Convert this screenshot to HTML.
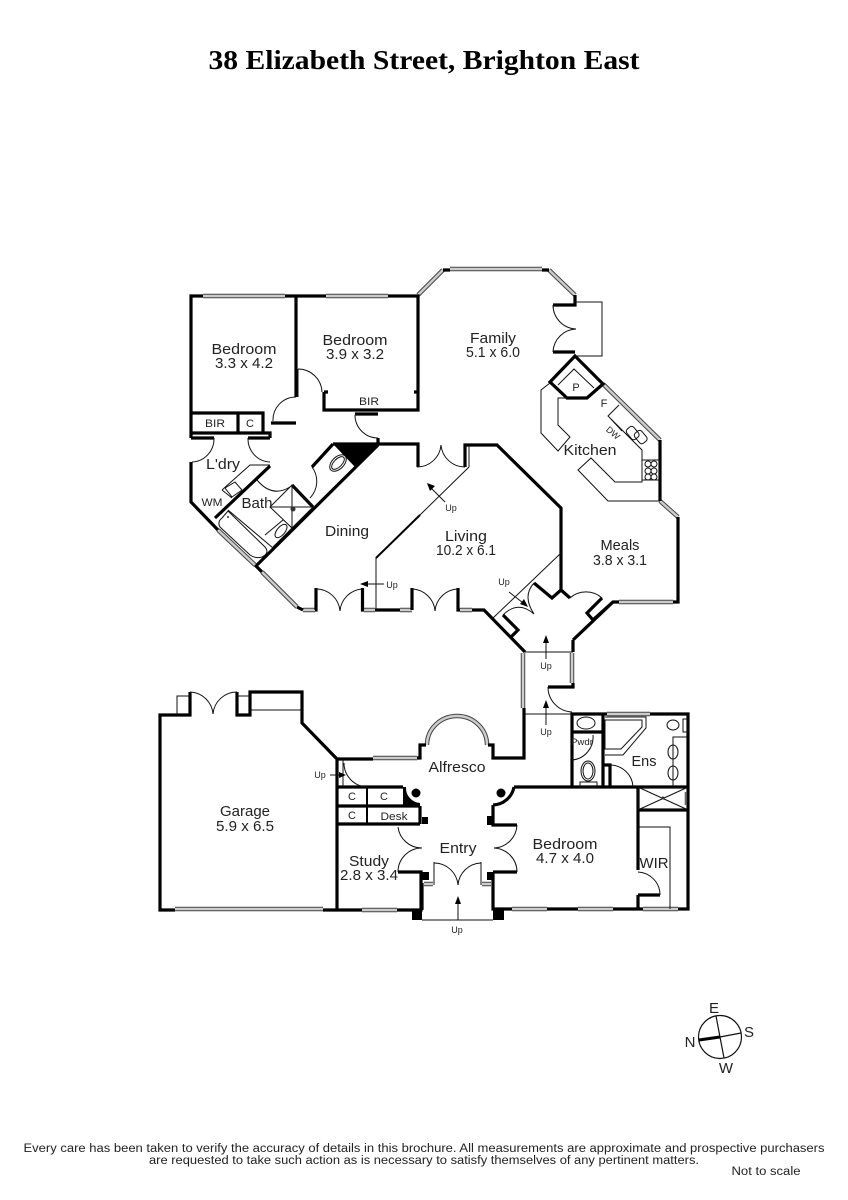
<!DOCTYPE html>
<html><head><meta charset="utf-8"><style>
html,body{margin:0;padding:0;background:#fff;width:848px;height:1200px;overflow:hidden}
svg{display:block}
text{font-family:"Liberation Sans",sans-serif;fill:#222;text-anchor:middle}
.r{font-size:15px}.s{font-size:9px}.b{font-size:11px}
.t{fill:none;stroke:#000;stroke-width:3.2;stroke-linejoin:miter}
.m{fill:none;stroke:#000;stroke-width:2}
.n{fill:none;stroke:#111;stroke-width:1}
.a{fill:none;stroke:#111;stroke-width:1}
.w1{fill:none;stroke:#444;stroke-width:4.5}
.w2{fill:none;stroke:#ccc;stroke-width:2.5}
</style></head><body>
<svg width="848" height="1200" viewBox="0 0 848 1200" xmlns="http://www.w3.org/2000/svg">
<defs>
<path id="win" d="M203 296H285M326 296H388M418 295L443 270M450 269H542M549 270L575 295M603 384L660 440M660 501L678 517M619 602H673M218 530L255 565M262 572L297 607M303 610H315M364 610H375M400 610H412M460 610H472M523 653V708M572 653V683M373 758H417M175 909H323M362 910H397M607 714H650M687 792V805M512 909H547M578 909H613M643 909H678M424 884H433M482 884H491M427 745A30 29 0 0 1 487 745"/>
</defs>
<text x="424" y="69" textLength="431" lengthAdjust="spacingAndGlyphs" style="font-family:'Liberation Serif',serif;font-weight:bold;font-size:27px;fill:#000">38 Elizabeth Street, Brighton East</text>

<use href="#win" class="w1"/><use href="#win" class="w2"/>

<!-- thick walls upper -->
<path class="t" d="M203 296H191V438M285 296H326M388 296H418V410H324V392M324 392H328M414 392H418M296 296V397M191 413H263V433M191 433H270V438M238 413V433M191 438H214M248 438H270M191 462V502L218 530M255 565L262 572M297 607L303 610M315 610H316V588M362.500 588V610H364M375 610H400M412 610V588M270 466L215 518M378 445L257 565M333 444H418V467M333 444L312 467M292 485L313 507M271 423H296M355 414H378M378 438V445"/>
<path d="M333 444H378L355 467Z" fill="#000"/>
<path class="t" d="M443 270H450M542 270H549M575 295V305H553M553 352H575M575 356L550 382L567 398H587L603 384Z M660 440V501M678 517V602H673M619 602H613L573 640M465 467V445H497L561 508V590L552 598L534 583M561 590L570 598M602 598L587 613L593 620L613 602M458 588V610H460M472 610H484L525 652M503 615L518 630L510 638M573 640V652"/>
<path class="t" d="M524 708V758H493V745H488M426 745H420V758H417M373 759H337L302 723V692H250V715H237V692M190 692V715H160V910H175M323 910H362M397 910H421V872H398M337 758V910M420 806H337M337 787H403M420 824H337M420 806V824M493 805V825H517M493 872H517M493 872V909H512M547 909H578M613 909H643M678 909H688V714H650M607 714H572V787M603 714V787M572 732H602M514 787H633M610 787V765H603M633 787H688M638 787V870M638 895V909M638 895H660M638 810H688M548 687H573V683M422 883V910"/>
<path class="m" d="M367 787V824"/>
<!-- black blocks -->
<path fill="#000" d="M412 909H422V920H412ZM493 909H504V920H493ZM422 817H428V824H422ZM487 816H493V825H487ZM422 872H429V880H422ZM487 872H493V880H487ZM403 787H406A15 15 0 0 0 420 803V806H403Z"/>
<circle cx="416" cy="793" r="4.500" fill="#000"/><circle cx="501" cy="793" r="4.500" fill="#000"/>
<path class="t" d="M493 805A22 22 0 0 0 514 787"/>

<!-- thin lines -->
<path class="n" d="M576 302H602V356H575M422 920H493M525 652H573M525 714H572M177 715V696H190M237 696H250M250 710H302M343 760V787M638 827H670V909M673 787V737H687M376 610V558L469 467M469 445V467M493 618L561 553M298 369V397"/>
<path class="m" d="M376 558L420 515"/>
<!-- door arcs -->
<path class="a" d="M214 438A23 23 0 0 1 192 462M248 438A23 23 0 0 0 270 462M312 467A24 24 0 0 1 310 498M257 480Q272 498 290 487M296 397A23 23 0 0 0 273 421M298 369A24 24 0 0 1 322 392M355 415A23 23 0 0 0 378 438M417 467A24 24 0 0 0 441 445M465 467A24 24 0 0 1 441 445M316 589A24 24 0 0 1 340 611A24 24 0 0 1 362 589M412 589A24 24 0 0 1 435 611A24 24 0 0 1 458 589M553 305A24 24 0 0 0 576 329A24 24 0 0 0 553 352M534 583Q522 596 534 614M503 615Q518 600 534 614M570 598A24 24 0 0 1 602 598M548 687A25 25 0 0 0 572 712M190 692A24 24 0 0 1 213 714A24 24 0 0 1 237 692M344 763A24 24 0 0 0 368 787M398 827A24 24 0 0 0 422 848A24 24 0 0 0 398 872M517 825A24 24 0 0 1 494 848A24 24 0 0 1 517 872M434 863A24 24 0 0 1 458 885A24 24 0 0 1 481 863M593 735A23 23 0 0 1 572 760M610 765A23 23 0 0 1 633 787M638 872A23 23 0 0 1 660 895"/>
<path class="a" d="M434 862V885M481 862V885"/>

<!-- kitchen -->
<path class="n" d="M550 383L541 390V433L558 451L570 437L558 425V398H567M558 385L574 369L594 388M619 405L608 416L642 450V482H615L591 458L578 470L608 501H660M642 460H659V480H642Z"/>
<circle cx="648" cy="464" r="3" class="n"/><circle cx="654" cy="464" r="3" class="n"/><circle cx="648" cy="471" r="3" class="n"/><circle cx="654" cy="471" r="3" class="n"/><circle cx="648" cy="477" r="3" class="n"/><circle cx="654" cy="477" r="3" class="n"/>
<rect x="628" y="427" width="9" height="13" rx="3" transform="rotate(-40 632 433)" class="n"/>
<rect x="636" y="431" width="9" height="13" rx="3" transform="rotate(-40 640 437)" class="n"/>
<path class="n" d="M611 419L622 431"/>

<!-- bath / laundry fixtures -->
<path class="n" d="M222 490L250 465H270M222 490L232 498M225 488L235 482L242 490L232 497ZM220 527Q217 522 222 518L228 511L265 547Q270 553 262 557Q256 559 250 555ZM228 510L273 548M292 485L313 507L292 528L270 507ZM292 485V528M270 507H313M265 535L283 520M273 547L292 528"/>
<circle cx="293" cy="509" r="2.500" fill="#333"/>
<ellipse cx="281" cy="531" rx="4" ry="8" transform="rotate(40 281 531)" class="n"/>
<circle cx="228" cy="517" r="1" fill="#333"/>
<ellipse cx="338" cy="463" rx="4" ry="8" transform="rotate(45 338 463)" class="n"/>
<ellipse cx="338" cy="463" rx="6" ry="10" transform="rotate(45 338 463)" class="n"/>
<!-- ensuite -->
<ellipse cx="586" cy="723" rx="9" ry="6" class="n"/>
<ellipse cx="588" cy="771" rx="7" ry="10" class="n"/><ellipse cx="588" cy="771" rx="5" ry="8" class="n"/>
<rect x="580" y="782" width="17" height="5" class="n"/>
<path class="n" d="M605 717H646V728L623 755H605M605 720H642V727L621 749H605Z"/>
<path class="n" d="M640 788L686 809M640 809L686 788"/>
<rect x="638" y="788" width="49" height="21" class="n"/>
<ellipse cx="673" cy="725" rx="6" ry="5" class="n"/>
<path class="n" d="M683 719H688V732H683Z"/>
<ellipse cx="673" cy="752" rx="5" ry="7" class="n"/><ellipse cx="673" cy="773" rx="5" ry="7" class="n"/>
<circle cx="663" cy="798" r="1.500" fill="#333"/>

<!-- arrows -->
<path class="n" d="M458 900V920M546 638V659M546 703V725M509 592L527 606M445 502L428 485M330 775H342M361 584H384"/>
<path fill="#000" d="M458 896L455 904H461ZM546 635L543 643H549ZM546 700L543 708H549ZM360 584L368 581V587ZM427 483L435 486L430 491ZM528 607L520 604L524 599ZM346 775L339 772V778Z"/>
<text class="s" x="392" y="588">Up</text>
<text class="s" x="451" y="511">Up</text>
<text class="s" x="504" y="585">Up</text>
<text class="s" x="546" y="669">Up</text>
<text class="s" x="546" y="735">Up</text>
<text class="s" x="320" y="778">Up</text>
<text class="s" x="457" y="933">Up</text>

<!-- labels -->
<text class="r" x="244" y="354" textLength="65" lengthAdjust="spacingAndGlyphs">Bedroom</text><text class="r" x="244" y="368" textLength="58" lengthAdjust="spacingAndGlyphs">3.3 x 4.2</text>
<text class="r" x="355" y="345" textLength="65" lengthAdjust="spacingAndGlyphs">Bedroom</text><text class="r" x="355" y="359" textLength="58" lengthAdjust="spacingAndGlyphs">3.9 x 3.2</text>
<text class="r" x="493" y="343" textLength="46" lengthAdjust="spacingAndGlyphs">Family</text><text class="r" x="493" y="357" textLength="54" lengthAdjust="spacingAndGlyphs">5.1 x 6.0</text>
<text class="r" x="590" y="455" textLength="53" lengthAdjust="spacingAndGlyphs">Kitchen</text>
<text class="r" x="620" y="550" textLength="39" lengthAdjust="spacingAndGlyphs">Meals</text><text class="r" x="620" y="565" textLength="54" lengthAdjust="spacingAndGlyphs">3.8 x 3.1</text>
<text class="r" x="466" y="541" textLength="42" lengthAdjust="spacingAndGlyphs">Living</text><text class="r" x="466" y="555" textLength="60" lengthAdjust="spacingAndGlyphs">10.2 x 6.1</text>
<text class="r" x="347" y="536" textLength="44" lengthAdjust="spacingAndGlyphs">Dining</text>
<text class="r" x="223" y="469" textLength="34" lengthAdjust="spacingAndGlyphs">L'dry</text>
<text class="r" x="257" y="508" textLength="31" lengthAdjust="spacingAndGlyphs">Bath</text>
<text class="r" x="245" y="816" textLength="50" lengthAdjust="spacingAndGlyphs">Garage</text><text class="r" x="245" y="831" textLength="58" lengthAdjust="spacingAndGlyphs">5.9 x 6.5</text>
<text class="r" x="369" y="866" textLength="40" lengthAdjust="spacingAndGlyphs">Study</text><text class="r" x="369" y="880" textLength="58" lengthAdjust="spacingAndGlyphs">2.8 x 3.4</text>
<text class="r" x="458" y="853" textLength="37" lengthAdjust="spacingAndGlyphs">Entry</text>
<text class="r" x="457" y="772" textLength="57" lengthAdjust="spacingAndGlyphs">Alfresco</text>
<text class="r" x="565" y="849" textLength="65" lengthAdjust="spacingAndGlyphs">Bedroom</text><text class="r" x="565" y="863" textLength="58" lengthAdjust="spacingAndGlyphs">4.7 x 4.0</text>
<text class="r" x="644" y="766" textLength="25" lengthAdjust="spacingAndGlyphs">Ens</text>
<text class="r" x="654" y="868" textLength="29" lengthAdjust="spacingAndGlyphs">WIR</text>
<text class="b" x="215" y="427" textLength="20" lengthAdjust="spacingAndGlyphs">BIR</text>
<text class="b" x="250" y="427">C</text>
<text class="b" x="369" y="405" textLength="20" lengthAdjust="spacingAndGlyphs">BIR</text>
<text class="b" x="212" y="506" textLength="21" lengthAdjust="spacingAndGlyphs">WM</text>
<text class="b" x="576" y="391">P</text>
<text class="b" x="604" y="407">F</text>
<text class="s" x="613" y="436" transform="rotate(40 613 433)">DW</text>
<text class="b" x="352" y="800">C</text><text class="b" x="384" y="800">C</text><text class="b" x="352" y="819">C</text>
<text class="b" x="394" y="820" textLength="27" lengthAdjust="spacingAndGlyphs">Desk</text>
<text class="s" x="582" y="745" textLength="22" lengthAdjust="spacingAndGlyphs">Pwdr</text>

<!-- compass -->
<circle cx="720" cy="1037" r="21.500" fill="none" stroke="#111" stroke-width="1.200"/>
<path stroke="#111" stroke-width="1.200" d="M716 1016L724 1058M720 1037L741 1033"/>
<path stroke="#000" stroke-width="3" d="M699 1040L720 1037"/>
<text class="r" x="714" y="1013">E</text><text class="r" x="749" y="1037">S</text><text class="r" x="726" y="1073">W</text><text class="r" x="690" y="1047">N</text>

<!-- footer -->
<text x="424" y="1152" font-size="11.500" textLength="801" lengthAdjust="spacingAndGlyphs">Every care has been taken to verify the accuracy of details in this brochure.  All measurements are approximate and prospective purchasers</text>
<text x="424" y="1164" font-size="11.500" textLength="550" lengthAdjust="spacingAndGlyphs">are requested to take such action as is necessary to satisfy themselves of any pertinent matters.</text>
<text x="766" y="1175" font-size="11.500" textLength="69" lengthAdjust="spacingAndGlyphs">Not to scale</text>
</svg>
</body></html>
